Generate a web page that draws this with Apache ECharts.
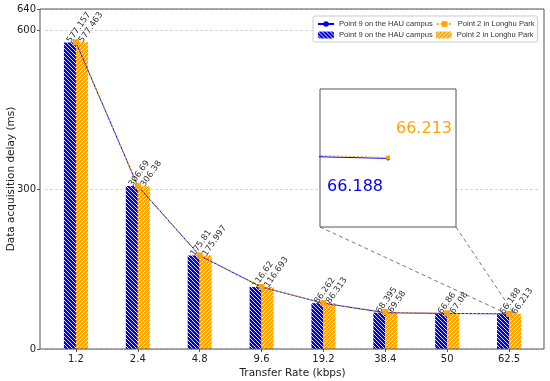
<!DOCTYPE html>
<html><head><meta charset="utf-8">
<script src="https://cdn.jsdelivr.net/npm/echarts@6/dist/echarts.min.js"></script>
<style>html,body{margin:0;padding:0;background:#fff}#c{width:550px;height:381px}</style>
</head><body><div id="c"></div>
<script>
const categories = ['1.2','2.4','4.8','9.6','19.2','38.4','50','62.5'];
const hau = [577.157, 306.69, 175.81, 116.62, 86.262, 68.395, 66.86, 66.188];
const longhu = [577.463, 306.38, 175.997, 116.693, 86.313, 69.58, 67.08, 66.213];
const hauName = 'Point 9 on the HAU campus';
const longhuName = 'Point 2 in Longhu Park';
const insetIdx = [5, 6, 7];
const insetX = [6.93, 7.07];
const insetY = [64.2, 68.2];

const BLUE = '#0000ff', ORANGE = '#ffa500';
function hatch(color, back) {
  const s = 4, c = document.createElement('canvas');
  c.width = s; c.height = s;
  const g = c.getContext('2d');
  g.fillStyle = color; g.fillRect(0, 0, s, s);
  g.strokeStyle = '#ffffff'; g.lineWidth = 0.9;
  g.beginPath();
  if (back) {
    g.moveTo(-1, -1); g.lineTo(s + 1, s + 1);
    g.moveTo(-1, s - 1); g.lineTo(1, s + 1);
    g.moveTo(s - 1, -1); g.lineTo(s + 1, 1);
  } else {
    g.moveTo(-1, s + 1); g.lineTo(s + 1, -1);
    g.moveTo(-1, 1); g.lineTo(1, -1);
    g.moveTo(s - 1, s + 1); g.lineTo(s + 1, s - 1);
  }
  g.stroke();
  return { image: c, repeat: 'repeat' };
}
const nameMap = { hauLine: hauName, lhLine: longhuName, hauBar: hauName, lhBar: longhuName };
const FONT = 'DejaVu Sans';
const barLabel = {
  show: true, position: 'top', distance: 2, rotate: 55, align: 'left', verticalAlign: 'middle',
  fontSize: 8.5, fontFamily: FONT, color: '#333', offset: [-2, 0]
};
function insetData(arr, lab) {
  return insetIdx.map(i => i === 7 ? { value: [i, arr[i]], label: lab } : [i, arr[i]]);
}
const chart = echarts.init(document.getElementById('c'), null, { renderer: 'canvas' });
const option = {
  backgroundColor: '#fff',
  animation: false,
  textStyle: { fontFamily: FONT },
  legend: {
    left: 313, top: 16, width: 240, padding: [4, 3, 3, 4], itemGap: 3, itemWidth: 16, itemHeight: 7,
    borderColor: '#cccccc', borderWidth: 1, borderRadius: 2, backgroundColor: '#fff',
    data: ['hauLine', 'lhLine', 'hauBar', 'lhBar'],
    formatter: n => nameMap[n],
    textStyle: { fontFamily: 'Liberation Sans', fontSize: 7.6, color: '#333' }
  },
  grid: [
    { left: 45, right: 10, top: 9, bottom: 32, outerBoundsMode: 'none', containLabel: false },
    { left: 320, top: 89, width: 136, height: 138, show: true, backgroundColor: '#fff', borderColor: '#555', borderWidth: 1, z: 1, outerBoundsMode: 'none' },
    { left: 40, right: 6, top: 9, bottom: 32, show: true, borderColor: '#555', borderWidth: 1, backgroundColor: 'transparent', z: 4, outerBoundsMode: 'none' }
  ],
  xAxis: [
    { type: 'category', gridIndex: 0, data: categories,
      axisLine: { show: false },
      axisTick: { show: true, alignWithLabel: true, length: 3, lineStyle: { color: '#555' } },
      axisLabel: { margin: 5, fontSize: 10, color: '#222', fontFamily: FONT },
      name: 'Transfer Rate (kbps)', nameLocation: 'middle', nameGap: 19, nameMoveOverlap: false,
      nameTextStyle: { fontSize: 10.5, color: '#222', fontFamily: FONT } },
    { type: 'value', gridIndex: 1, min: insetX[0], max: insetX[1], show: false },
    { type: 'value', gridIndex: 2, min: 0, max: 1, show: false }
  ],
  yAxis: [
    { type: 'value', gridIndex: 0, min: 0, max: 640, interval: 300, offset: 5,
      axisLine: { show: false },
      axisTick: { show: true, length: 3, lineStyle: { color: '#555' } },
      axisLabel: { margin: 4, fontSize: 10, color: '#222', fontFamily: FONT },
      splitLine: { show: true, lineStyle: { color: '#cccccc', width: 0.8, type: [3, 2] } },
      name: 'Data acquisition delay (ms)', nameLocation: 'middle', nameGap: 23, nameMoveOverlap: false,
      nameTextStyle: { fontSize: 10.5, color: '#222', fontFamily: FONT } },
    { type: 'value', gridIndex: 1, min: insetY[0], max: insetY[1], show: false },
    { type: 'value', gridIndex: 2, min: 0, max: 1, show: false }
  ],
  series: [
    { name: 'hauBar', type: 'bar', xAxisIndex: 0, yAxisIndex: 0, data: hau, barWidth: 12, barGap: '0%',
      itemStyle: { color: hatch(BLUE, true) }, label: barLabel, z: 2 },
    { name: 'lhBar', type: 'bar', xAxisIndex: 0, yAxisIndex: 0, data: longhu, barWidth: 12, barGap: '0%',
      itemStyle: { color: hatch(ORANGE, false) }, label: barLabel, z: 2 },
    { name: 'hauLine', type: 'line', xAxisIndex: 0, yAxisIndex: 0, data: hau,
      symbol: 'circle', symbolSize: 5, showAllSymbol: true,
      lineStyle: { color: BLUE, width: 1 }, itemStyle: { color: BLUE }, z: 3 },
    { name: 'lhLine', type: 'line', xAxisIndex: 0, yAxisIndex: 0, data: longhu,
      symbol: 'rect', symbolSize: 6, showAllSymbol: true,
      lineStyle: { color: ORANGE, width: 1, type: [2, 2] }, itemStyle: { color: ORANGE }, z: 4 },
    { name: 'hauLine', type: 'line', xAxisIndex: 1, yAxisIndex: 1, clip: true,
      data: insetData(hau, { show: true, position: 'inside', align: 'left', verticalAlign: 'middle',
        offset: [-61, 28], fontSize: 16, fontFamily: FONT, color: BLUE, formatter: p => String(p.value[1]) }),
      symbol: 'circle', symbolSize: 4, lineStyle: { color: BLUE, width: 1 }, itemStyle: { color: BLUE }, z: 5 },
    { name: 'lhLine', type: 'line', xAxisIndex: 1, yAxisIndex: 1, clip: true,
      data: insetData(longhu, { show: true, position: 'inside', align: 'left', verticalAlign: 'middle',
        offset: [8, -29], fontSize: 16, fontFamily: FONT, color: ORANGE, formatter: p => String(p.value[1]) }),
      symbol: 'rect', symbolSize: 4, lineStyle: { color: ORANGE, width: 1, type: [2, 2] }, itemStyle: { color: ORANGE }, z: 6 }
  ]
};
chart.setOption(option);

const c7 = chart.convertToPixel({ gridIndex: 0 }, [7, 0]);
const c6 = chart.convertToPixel({ gridIndex: 0 }, [6, 0]);
const band = c7[0] - c6[0];
const rx0 = c7[0] + (insetX[0] - 7) * band, rx1 = c7[0] + (insetX[1] - 7) * band;
const ry0 = chart.convertToPixel({ yAxisIndex: 0 }, insetY[1]);
const ry1 = chart.convertToPixel({ yAxisIndex: 0 }, insetY[0]);
const bl = chart.convertToPixel({ gridIndex: 1 }, [insetX[0], insetY[0]]);
const br = chart.convertToPixel({ gridIndex: 1 }, [insetX[1], insetY[0]]);
const dash = { stroke: '#555', lineWidth: 0.8, lineDash: [4, 3] };
chart.setOption({
  graphic: [
    { type: 'line', shape: { x1: bl[0], y1: bl[1], x2: rx0, y2: ry0 }, style: dash, z: 1 },
    { type: 'line', shape: { x1: br[0], y1: br[1], x2: rx1, y2: ry0 }, style: dash, z: 1 },
    { type: 'rect', shape: { x: rx0, y: ry0, width: rx1 - rx0, height: ry1 - ry0 }, style: { stroke: '#555', lineWidth: 0.8, fill: 'transparent' }, z: 1 }
  ]
});
</script></body></html>
